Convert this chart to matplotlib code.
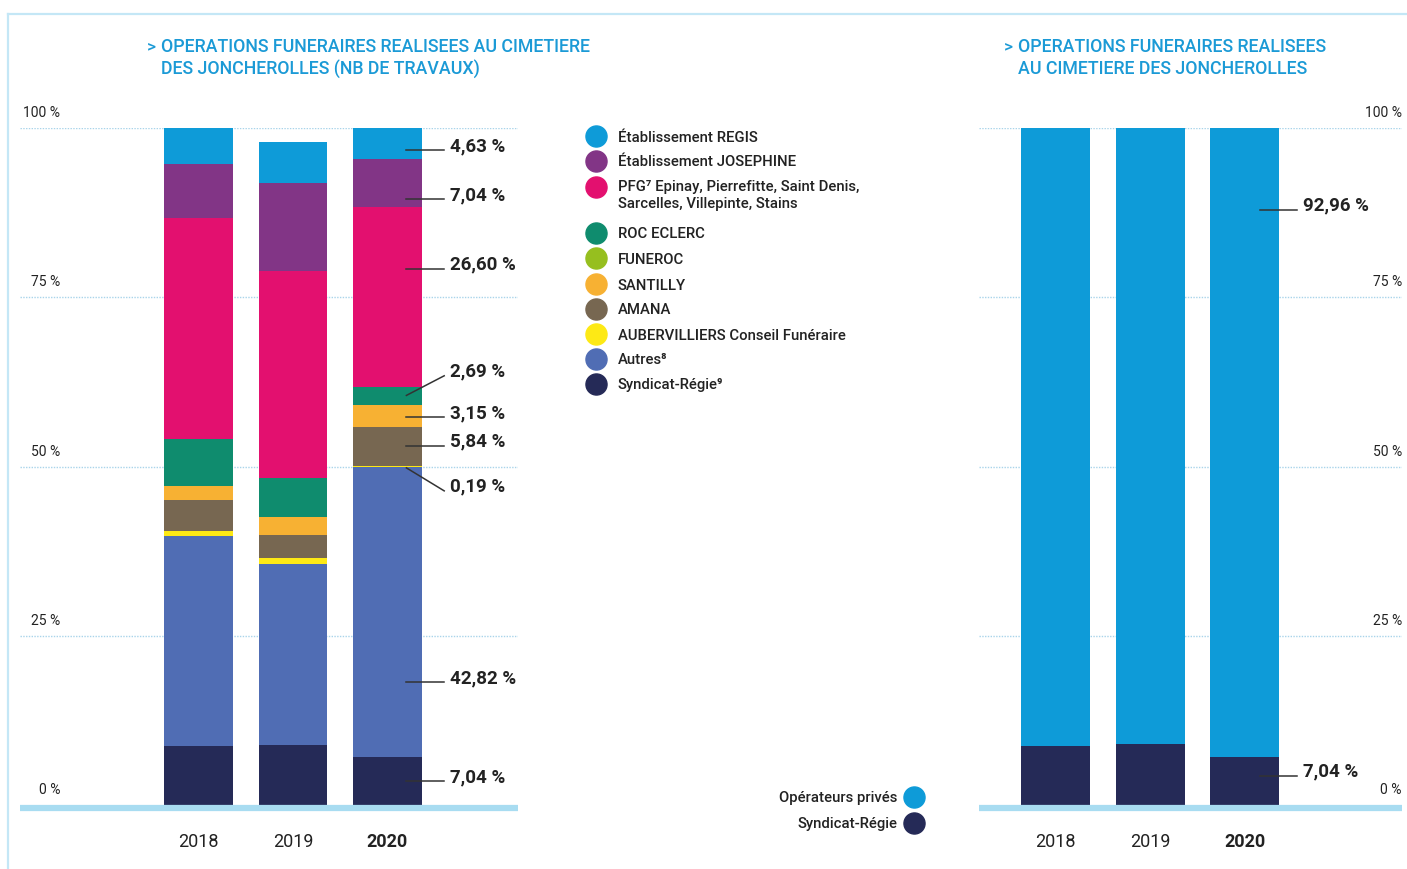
import matplotlib.pyplot as plt
import matplotlib.transforms as mtransforms
import numpy as np

plt.rcParams['font.family'] = ['Roboto', 'DejaVu Sans']

W, H = 1407, 869

years = ['2018', '2019', '2020']

# left chart, % of works per operator (stacked bottom -> top)
syndicat = [8.73, 8.88, 7.04]
autres = [31.06, 26.77, 42.82]
auber = [0.74, 0.89, 0.19]
amana = [4.59, 3.40, 5.84]
santilly = [2.07, 2.66, 3.15]
funeroc = [0.0, 0.0, 0.0]
roc = [6.80, 5.77, 2.69]
pfg = [32.70, 30.48, 26.60]
josephine = [7.98, 13.01, 7.04]
regis = [5.33, 6.07, 4.63]

# right chart
syndicat_r = [8.73, 9.00, 7.04]
prives_r = [91.27, 91.00, 92.96]

series = [
    ('Syndicat-Régie⁹', syndicat, '#252a57'),
    ('Autres⁸', autres, '#506db4'),
    ('AUBERVILLIERS Conseil Funéraire', auber, '#fde915'),
    ('AMANA', amana, '#776751'),
    ('SANTILLY', santilly, '#f7b133'),
    ('FUNEROC', funeroc, '#96bf1f'),
    ('ROC ECLERC', roc, '#0f8c6e'),
    ('PFG⁷ Epinay, Pierrefitte, Saint Denis,\nSarcelles, Villepinte, Stains', pfg, '#e3106f'),
    ('Établissement JOSEPHINE', josephine, '#823586'),
    ('Établissement REGIS', regis, '#0e9bd8'),
]

label_2020 = ['7,04 %', '42,82 %', '0,19 %', '5,84 %', '3,15 %', None,
              '2,69 %', '26,60 %', '7,04 %', '4,63 %']

TXT = '#222222'
BLUE_T = '#1b9ad6'
GRID = '#a9d4ea'
BASE = '#a8dcf1'

fig = plt.figure(figsize=(W / 100, H / 100), dpi=100)


def setup_axes(rect_px, xlim):
    x0, y0, x1, y1 = rect_px
    ax = fig.add_axes([x0 / W, 1 - y1 / H, (x1 - x0) / W, (y1 - y0) / H])
    ax.set_xlim(*xlim)
    ax.set_ylim(0, 100)
    for s in ax.spines.values():
        s.set_visible(False)
    ax.set_xticks([])
    ax.set_yticks([])
    ax.patch.set_alpha(0)
    for g in [25, 50, 75, 100]:
        ax.axhline(g, color=GRID, lw=1, ls=(0, (1, 1)), zorder=0)
    ax.axhline(-0.45, color=BASE, lw=4.5, zorder=3, clip_on=False,
               solid_capstyle='butt')
    return ax


# ---- left chart
axl = setup_axes((20, 128, 518, 805), (-1.889, 3.381))
x = np.arange(len(years))
bottom = np.zeros(len(years))
for name, vals, col in series:
    vals = np.array(vals)
    axl.bar(x, vals, bottom=bottom, width=0.73, color=col, zorder=2)
    bottom = bottom + vals

# labels for 2020: series index -> (line start y, text y) in data units
bx = 2 + 0.2
tx = 2 + 0.6
lab_pos = {0: (3.5, 3.5), 1: (18.1, 18.1), 2: (49.8, 46.4), 3: (53.1, 53.1),
           4: (57.3, 57.3), 6: (60.5, 63.4), 7: (79.2, 79.2),
           8: (89.5, 89.5), 9: (96.7, 96.7)}
for i, (y0, y1) in lab_pos.items():
    axl.plot([bx, tx], [y0, y1], color='#333333', lw=1.1, zorder=4,
             clip_on=False)
    axl.text(tx + 0.06, y1 + 0.6, label_2020[i], ha='left', va='center',
             fontsize=13.5, fontweight='bold', color=TXT)

for g, s in [(0, '0 %'), (25, '25 %'), (50, '50 %'), (75, '75 %'), (100, '100 %')]:
    axl.text(0.081, g + 1.6, s, transform=axl.get_yaxis_transform(),
             ha='right', va='baseline', fontsize=10, color=TXT)

# ---- right chart
axr = setup_axes((979, 128, 1402, 805), (-0.81, 3.666))
axr.bar(x, syndicat_r, width=0.73, color='#252a57', zorder=2)
axr.bar(x, prives_r, bottom=syndicat_r, width=0.73, color='#0e9bd8', zorder=2)
for yv, s in [(syndicat_r[2] / 2 + 0.8, '7,04 %'), (87.9, '92,96 %')]:
    axr.plot([2.165, 2.56], [yv, yv], color='#333333', lw=1.1, zorder=4,
             clip_on=False)
    axr.text(2.62, yv + 0.6, s, ha='left', va='center',
             fontsize=13.5, fontweight='bold', color=TXT)
for g, s in [(0, '0 %'), (25, '25 %'), (50, '50 %'), (75, '75 %'), (100, '100 %')]:
    axr.text(1.0, g + 1.6, s, transform=axr.get_yaxis_transform(),
             ha='right', va='baseline', fontsize=10, color=TXT)

# year labels
for ax in (axl, axr):
    for i, yr in enumerate(years):
        ax.text(i, -5.4, yr, ha='center', va='center', fontsize=13,
                color=TXT, fontweight='bold' if yr == '2020' else 'normal',
                clip_on=False)

# ---- overlay for frame, titles, legends
ov = fig.add_axes([0, 0, 1, 1])
ov.set_xlim(0, W)
ov.set_ylim(H, 0)
ov.axis('off')
ov.patch.set_alpha(0)
ov.plot([8, W], [14, 14], color='#c4e7f6', lw=1.6)
ov.plot([8, 8], [14, H], color='#c4e7f6', lw=1.6)

title_shift = ov.transData + mtransforms.ScaledTranslation(0, 0.09, fig.dpi_scale_trans)
ov.text(147, 47, '>', ha='left', va='center', fontsize=12.5,
        color=BLUE_T, fontweight='medium')
ov.text(161, 47, 'OPERATIONS FUNERAIRES REALISEES AU CIMETIERE\nDES JONCHEROLLES (NB DE TRAVAUX)',
        ha='left', va='top', fontsize=12.8, color=BLUE_T,
        fontweight='medium', linespacing=1.3, transform=title_shift)
ov.text(1004, 47, '>', ha='left', va='center', fontsize=12.5,
        color=BLUE_T, fontweight='medium')
ov.text(1018, 47, 'OPERATIONS FUNERAIRES REALISEES\nAU CIMETIERE DES JONCHEROLLES',
        ha='left', va='top', fontsize=12.8, color=BLUE_T,
        fontweight='medium', linespacing=1.3, transform=title_shift)

# legend (top -> bottom)
leg_y = [136, 161, 187, 233, 258, 284, 309, 334, 359, 384]
for (name, vals, col), yy in zip(series[::-1], leg_y):
    ov.scatter([596], [yy], s=230, color=col, zorder=5)
    if '\n' in name:
        ov.text(618, yy - 7, name, ha='left', va='top', fontsize=10.7,
                color=TXT, fontweight='medium', linespacing=1.3)
    else:
        ov.text(618, yy + 1.5, name, ha='left', va='center', fontsize=10.7,
                color=TXT, fontweight='medium')

for yy, name, col in [(797, 'Opérateurs privés', '#0e9bd8'),
                      (823, 'Syndicat-Régie', '#252a57')]:
    ov.scatter([914], [yy], s=230, color=col, zorder=5)
    ov.text(897, yy + 1, name, ha='right', va='center', fontsize=10.7,
            color=TXT, fontweight='medium')

fig.savefig('out.png', dpi=100)
